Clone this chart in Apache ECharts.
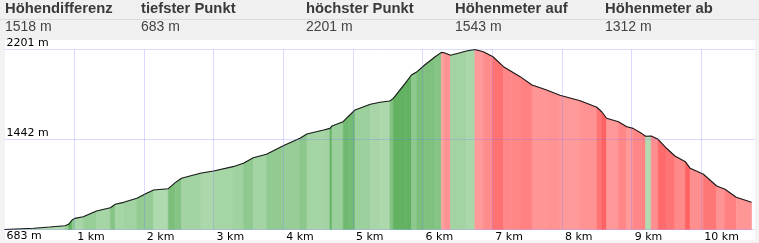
<!DOCTYPE html>
<html><head><meta charset="utf-8">
<script src="https://cdn.jsdelivr.net/npm/echarts@6/dist/echarts.min.js"></script>
<style>html,body{margin:0;padding:0;background:#f3f3f3;}#c{width:759px;height:243px;}</style>
</head><body><div id="c"></div>
<script>
const statLabels = ['Höhendifferenz','tiefster Punkt','höchster Punkt','Höhenmeter auf','Höhenmeter ab'];
const statValues = ['1518 m','683 m','2201 m','1543 m','1312 m'];
const yTicks = [683, 1442, 2201];
const xTicks = [1,2,3,4,5,6,7,8,9,10];
const distKm = [0.00,0.42,0.65,0.87,0.92,0.97,1.01,1.13,1.32,1.52,1.59,1.71,1.90,2.04,2.14,2.35,2.45,2.54,2.81,2.85,3.00,3.28,3.43,3.57,3.76,4.00,4.24,4.34,4.58,4.67,4.70,4.86,4.93,5.03,5.25,5.39,5.53,5.58,5.75,5.84,5.92,6.03,6.18,6.27,6.31,6.40,6.51,6.63,6.75,6.87,7.01,7.16,7.28,7.40,7.57,7.78,7.97,8.26,8.50,8.57,8.64,8.81,8.93,9.02,9.14,9.20,9.28,9.38,9.50,9.62,9.77,9.84,10.03,10.22,10.34,10.50,10.72];
const elevM = [683,693,704,715,727,763,777,791,839,867,896,912,946,988,1016,1027,1078,1115,1157,1162,1176,1213,1241,1288,1317,1390,1452,1488,1522,1536,1556,1592,1634,1691,1739,1756,1767,1789,1916,1986,2014,2070,2140,2177,2174,2153,2170,2189,2201,2182,2140,2056,2014,1972,1902,1859,1815,1769,1714,1676,1621,1592,1550,1536,1494,1470,1472,1444,1368,1303,1255,1199,1149,1050,1022,955,912];

const Y_MIN = 683, Y_MAX = 2201, X_MAX = 10.77;

function mix(a, b, t) { return 'rgb(' + a.map((v, i) => Math.round(v + (b[i] - v) * t)).join(',') + ')'; }
function segColor(x0, y0, x1, y1) {
  const grade = (y1 - y0) / ((x1 - x0) * 1000) * 100;
  const t = Math.min(Math.abs(grade) / 85, 1);
  if (grade >= 0) return mix([196, 228, 196], [98, 178, 98], Math.min(1, 0.15 + t));
  return mix([255, 182, 182], [255, 98, 98], Math.min(1, 0.15 + t));
}
const segments = [];
for (let i = 0; i < distKm.length - 1; i++) {
  segments.push([distKm[i], elevM[i], distKm[i + 1], elevM[i + 1]]);
}
const lineData = distKm.map((d, i) => [d, elevM[i]]);

const chart = echarts.init(document.getElementById('c'), null, {renderer: 'canvas'});
const FONT = 'DejaVu Sans';
const graphic = [
  {type: 'rect', z: -100, shape: {x: 0, y: 0, width: 759, height: 40}, style: {fill: '#f0f0f0'}},
  {type: 'rect', z: -100, shape: {x: 0, y: 19, width: 759, height: 1}, style: {fill: '#dcdcdc'}},
  {type: 'rect', z: -100, shape: {x: 5, y: 40, width: 750, height: 200}, style: {fill: '#ffffff'}}
];
const statX = [5, 141, 306, 455, 605];
statLabels.forEach((s, i) => {
  graphic.push({type: 'text', x: statX[i], y: 8.6, style: {text: s, fill: '#3a3a3a', font: 'bold 14.8px "Liberation Sans", Arial', verticalAlign: 'middle'}});
  graphic.push({type: 'text', x: statX[i], y: 27, style: {text: statValues[i], fill: '#444', font: '14px "Liberation Sans", Arial', verticalAlign: 'middle'}});
});

const gridColor = 'rgba(110,110,255,0.25)';
const markData = yTicks.map(v => ({
  yAxis: v,
  label: {show: true, formatter: v + ' m', position: v === Y_MIN ? 'insideStartBottom' : 'insideStartTop', distance: [2, 1], color: '#000', fontFamily: FONT, fontSize: 11}
})).concat(xTicks.map(v => ({xAxis: v, label: {show: false}})));

chart.setOption({
  animation: false,
  backgroundColor: 'transparent',
  graphic: graphic,
  grid: {left: 4.5, top: 49.5, width: 750.5, height: 180},
  xAxis: {
    type: 'value', min: 0, max: X_MAX, interval: 1,
    axisLine: {show: false}, axisTick: {show: false}, splitLine: {show: false},
    axisLabel: {
      customValues: xTicks, showMinLabel: true, showMaxLabel: true,
      formatter: v => v + ' km', align: 'left', padding: [0, 0, 0, 3], margin: 2,
      color: '#000', fontFamily: FONT, fontSize: 11
    }
  },
  yAxis: {
    type: 'value', min: Y_MIN, max: Y_MAX,
    axisLine: {show: false}, axisTick: {show: false}, splitLine: {show: false}, axisLabel: {show: false}
  },
  series: [
    {
      type: 'custom', z: 2, silent: true,
      data: segments,
      encode: {x: [0, 2], y: [1, 3]},
      renderItem: function (params, api) {
        const x0 = api.value(0), y0 = api.value(1), x1 = api.value(2), y1 = api.value(3);
        const c = segColor(x0, y0, x1, y1);
        return {
          type: 'polygon',
          shape: {points: [api.coord([x0, Y_MIN]), api.coord([x0, y0]), api.coord([x1, y1]), api.coord([x1, Y_MIN])]},
          style: {fill: c, stroke: c, lineWidth: 0.6}
        };
      }
    },
    {
      type: 'line', z: 3, silent: true, data: lineData, symbol: 'none',
      lineStyle: {color: '#1a1a1a', width: 1.1},
      markLine: {
        silent: true, symbol: 'none', z: 5,
        lineStyle: {color: gridColor, type: 'solid', width: 1},
        data: markData
      }
    }
  ]
});
</script></body></html>
